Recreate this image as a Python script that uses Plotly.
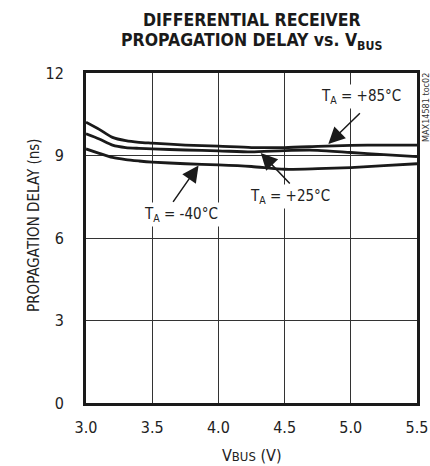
import plotly.graph_objects as go

# Supply voltage (V)
vbus = [3.0, 3.1, 3.2, 3.3, 3.4, 3.5, 3.75, 4.0, 4.25, 4.5, 4.75, 5.0, 5.25, 5.5]

# Propagation delay (ns) at each ambient temperature
delay_85c = [10.21, 9.95, 9.66, 9.54, 9.48, 9.45, 9.38, 9.34, 9.29, 9.29, 9.33, 9.37, 9.38, 9.38]
delay_25c = [9.79, 9.6, 9.38, 9.29, 9.26, 9.24, 9.2, 9.17, 9.13, 9.18, 9.19, 9.11, 9.03, 8.96]
delay_m40c = [9.24, 9.08, 8.93, 8.85, 8.8, 8.76, 8.7, 8.66, 8.6, 8.5, 8.52, 8.56, 8.63, 8.7]

x_ticks = [3.0, 3.5, 4.0, 4.5, 5.0, 5.5]
y_ticks = [0, 3, 6, 9, 12]

FONT = "DejaVu Sans Condensed, Liberation Sans Narrow, sans-serif"
INK = "#1a1a1a"

fig = go.Figure()
for ys in (delay_85c, delay_25c, delay_m40c):
    fig.add_trace(go.Scatter(
        x=vbus, y=ys, mode="lines",
        line=dict(color=INK, width=2.8, shape="spline", smoothing=0.7),
        showlegend=False, hoverinfo="skip",
    ))

# Curve labels: (text, text x, text y, arrow tail x, tail y, head x, head y)
labels = [
    ("T<sub>A</sub> = +85°C", 5.08, 11.16, 5.08, 10.59, 4.83, 9.42),
    ("T<sub>A</sub> = +25°C", 4.54, 7.50, 4.55, 7.93, 4.32, 9.09),
    ("T<sub>A</sub> = -40°C", 3.72, 6.84, 3.65, 7.26, 3.85, 8.64),
]
for txt, tx, ty, ax, ay, hx, hy in labels:
    fig.add_annotation(x=tx, y=ty, text=txt, showarrow=False,
                       bgcolor="white", borderpad=2,
                       font=dict(family=FONT, size=15, color="#222"))
    fig.add_annotation(x=hx, y=hy, ax=ax, ay=ay, axref="x", ayref="y",
                       text="", showarrow=True, arrowhead=2, arrowsize=2.2,
                       arrowwidth=1.5, arrowcolor=INK, standoff=0)

# Chart title, two lines
fig.add_annotation(x=0.5, xref="paper", y=1.161, yref="paper", yanchor="middle",
                   text="<b>DIFFERENTIAL RECEIVER</b>", showarrow=False,
                   font=dict(family=FONT, size=17.5, color=INK))
fig.add_annotation(x=0.5, xref="paper", y=1.094, yref="paper", yanchor="middle",
                   text="<b>PROPAGATION DELAY vs. V<sub>BUS</sub></b>", showarrow=False,
                   font=dict(family=FONT, size=17.5, color=INK))

# Y axis title
fig.add_annotation(x=-0.19, xref="paper", y=0.54, yref="paper",
                   text="PROPAGATION DELAY (ns)", textangle=-90, showarrow=False,
                   font=dict(family=FONT, size=15, color="#222"))

# X axis title
fig.add_annotation(x=0.5, xref="paper", y=-0.158, yref="paper", yanchor="middle",
                   text="V<span style='font-size:13px'>BUS</span> (V)", showarrow=False,
                   font=dict(family=FONT, size=16, color="#222"))

# Part reference, rotated along the right edge
fig.add_annotation(x=1.0, xref="paper", xanchor="left", xshift=2,
                   y=10.73, yref="y", yanchor="middle",
                   text="MAX14581 toc02", textangle=-90, showarrow=False,
                   font=dict(family=FONT, size=9, color="#333"))

fig.update_layout(
    width=430, height=466,
    margin=dict(l=86, r=13, t=73, b=63),
    paper_bgcolor="white", plot_bgcolor="white",
    font=dict(family=FONT, color="#222"),
    xaxis=dict(
        range=[3.0, 5.5], tickvals=x_ticks, ticktext=[f"{v:.1f}" for v in x_ticks],
        showgrid=True, gridcolor="#333", gridwidth=1,
        showline=True, linecolor=INK, linewidth=3, mirror=True,
        ticks="", ticklabelstandoff=8, zeroline=False, automargin=False,
        tickfont=dict(family=FONT, size=16, color="#222"),
    ),
    yaxis=dict(
        range=[0, 12], tickvals=y_ticks,
        showgrid=True, gridcolor="#333", gridwidth=1,
        showline=True, linecolor=INK, linewidth=3, mirror=True,
        ticks="", ticklabelstandoff=16, zeroline=False, automargin=False,
        tickfont=dict(family=FONT, size=16, color="#222"),
    ),
)

fig.write_html("out.html")
